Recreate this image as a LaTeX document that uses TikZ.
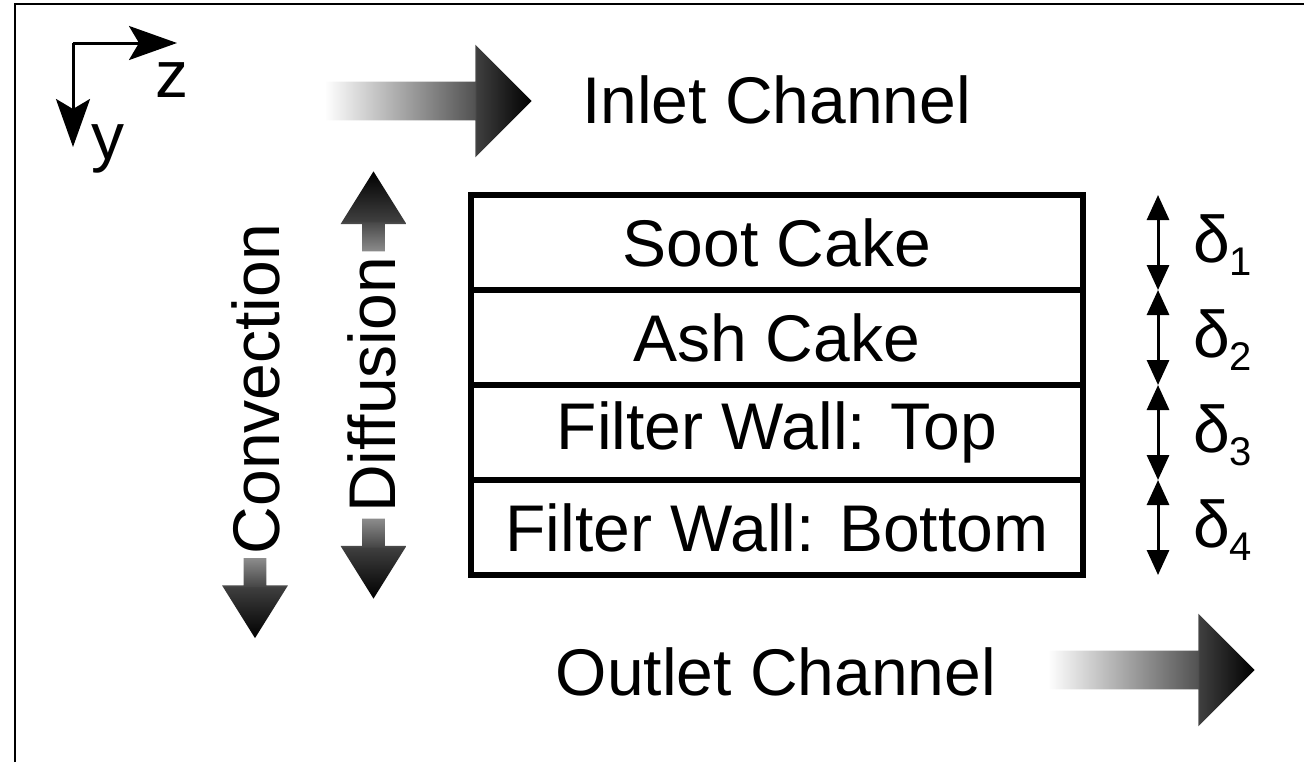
\documentclass[tikz,border=0pt]{standalone}
\usepackage{fontspec}
\setmainfont{Liberation Sans}
\usetikzlibrary{arrows.meta,shapes.arrows,positioning}

% shadings for the flow arrows
\pgfdeclarehorizontalshading{flowshade}{100bp}{color(0bp)=(white); color(25bp)=(white);
  color(61.4bp)=(black!68); color(61.5bp)=(black!75); color(75bp)=(black); color(100bp)=(black)}
\pgfdeclareverticalshading{downshade}{100bp}{color(0bp)=(black); color(25bp)=(black);
  color(57.4bp)=(black!75); color(57.5bp)=(black!72); color(75bp)=(black!45); color(100bp)=(black!45)}
\pgfdeclareverticalshading{upshade}{100bp}{color(0bp)=(black!45); color(25bp)=(black!45);
  color(43.4bp)=(black!72); color(43.5bp)=(black!75); color(75bp)=(black); color(100bp)=(black)}

\newcommand{\dsub}[1]{\raisebox{-6.5pt}{\fontsize{20}{24}\selectfont #1}}

\tikzset{
  txt/.style={inner sep=0pt, outer sep=0pt, font=\fontsize{33}{40}\selectfont},
  layer/.style={txt, draw=black, line width=3pt, minimum width=306pt, minimum height=47.5pt},
  flow/.style={single arrow, inner xsep=0pt, inner ysep=9.5pt, outer sep=0pt, minimum height=103.5pt,
    minimum width=56pt, single arrow head extend=18.5pt, shading=flowshade},
  vflow/.style={single arrow, inner sep=5.5pt, outer sep=0pt, minimum height=40pt,
    minimum width=32.5pt, single arrow head extend=10.75pt, single arrow tip angle=64},
  dim/.style={line width=1.5pt, {Triangle[length=12.5pt,width=11pt]}-{Triangle[length=12.5pt,width=11pt]}},
  axis/.style={line width=1.5pt, -{Stealth[length=24pt,width=17pt,inset=5pt]}}
}

\begin{document}
\begin{tikzpicture}[x=0.5pt, y=-0.5pt]
  \useasboundingbox (0,0) rectangle (1304,762);
  \draw[line width=1pt] (15,762) -- (15,4) -- (1304,4);

  % axes
  \coordinate (o) at (73,43);
  \coordinate (zt) at (177,43);
  \coordinate (yt) at (73,147);
  \draw[axis] (o) -- (zt);
  \draw[axis] (o) -- (yt);
  \node[txt, anchor=base] (zl) at (172,97) {z};
  \node[txt, anchor=base] (yl) at (108,159) {y};

  % channels
  \node[flow] (inarr) at (418.5,101) {};
  \node[txt] (inlet) at (776.5,100) {Inlet Channel};
  \node[flow] (outarr) at (1141.5,670) {};
  \node[txt] (outlet) at (776,672) {Outlet Channel};

  % layers
  \node[layer] (soot) at (777,242.5) {Soot Cake};
  \node[layer, below=0pt of soot] (ash) {Ash Cake};
  \node[layer, below=0pt of ash] (walltop) {Filter Wall: Top};
  \node[layer, below=0pt of walltop] (wallbot) {Filter Wall: Bottom};

  % thicknesses
  \coordinate (d0) at ([xshift=37.5pt]soot.north east);
  \coordinate (d1) at ([xshift=37.5pt]ash.north east);
  \coordinate (d2) at ([xshift=37.5pt]walltop.north east);
  \coordinate (d3) at ([xshift=37.5pt]wallbot.north east);
  \coordinate (d4) at ([xshift=37.5pt]wallbot.south east);
  \draw[dim] (d0) -- (d1);
  \draw[dim] (d1) -- (d2);
  \draw[dim] (d2) -- (d3);
  \draw[dim] (d3) -- (d4);
  \node[txt, anchor=base west] (t1) at (1193,262.5) {δ\dsub{1}};
  \node[txt, anchor=base west] (t2) at (1193,357.5) {δ\dsub{2}};
  \node[txt, anchor=base west] (t3) at (1193,452.5) {δ\dsub{3}};
  \node[txt, anchor=base west] (t4) at (1193,547.5) {δ\dsub{4}};

  % transport
  \node[txt, rotate=90] (conv) at (256,389) {Convection};
  \node[vflow, shape border rotate=270, shading=downshade] (convarr) at (255,589) {};
  \node[txt, rotate=90] (diff) at (372,385) {Diffusion};
  \node[vflow, shape border rotate=90, shading=upshade] (diffup) at (373.5,220.5) {};
  \node[vflow, shape border rotate=270, shading=downshade] (diffdown) at (373.5,549.5) {};
\end{tikzpicture}
\end{document}
